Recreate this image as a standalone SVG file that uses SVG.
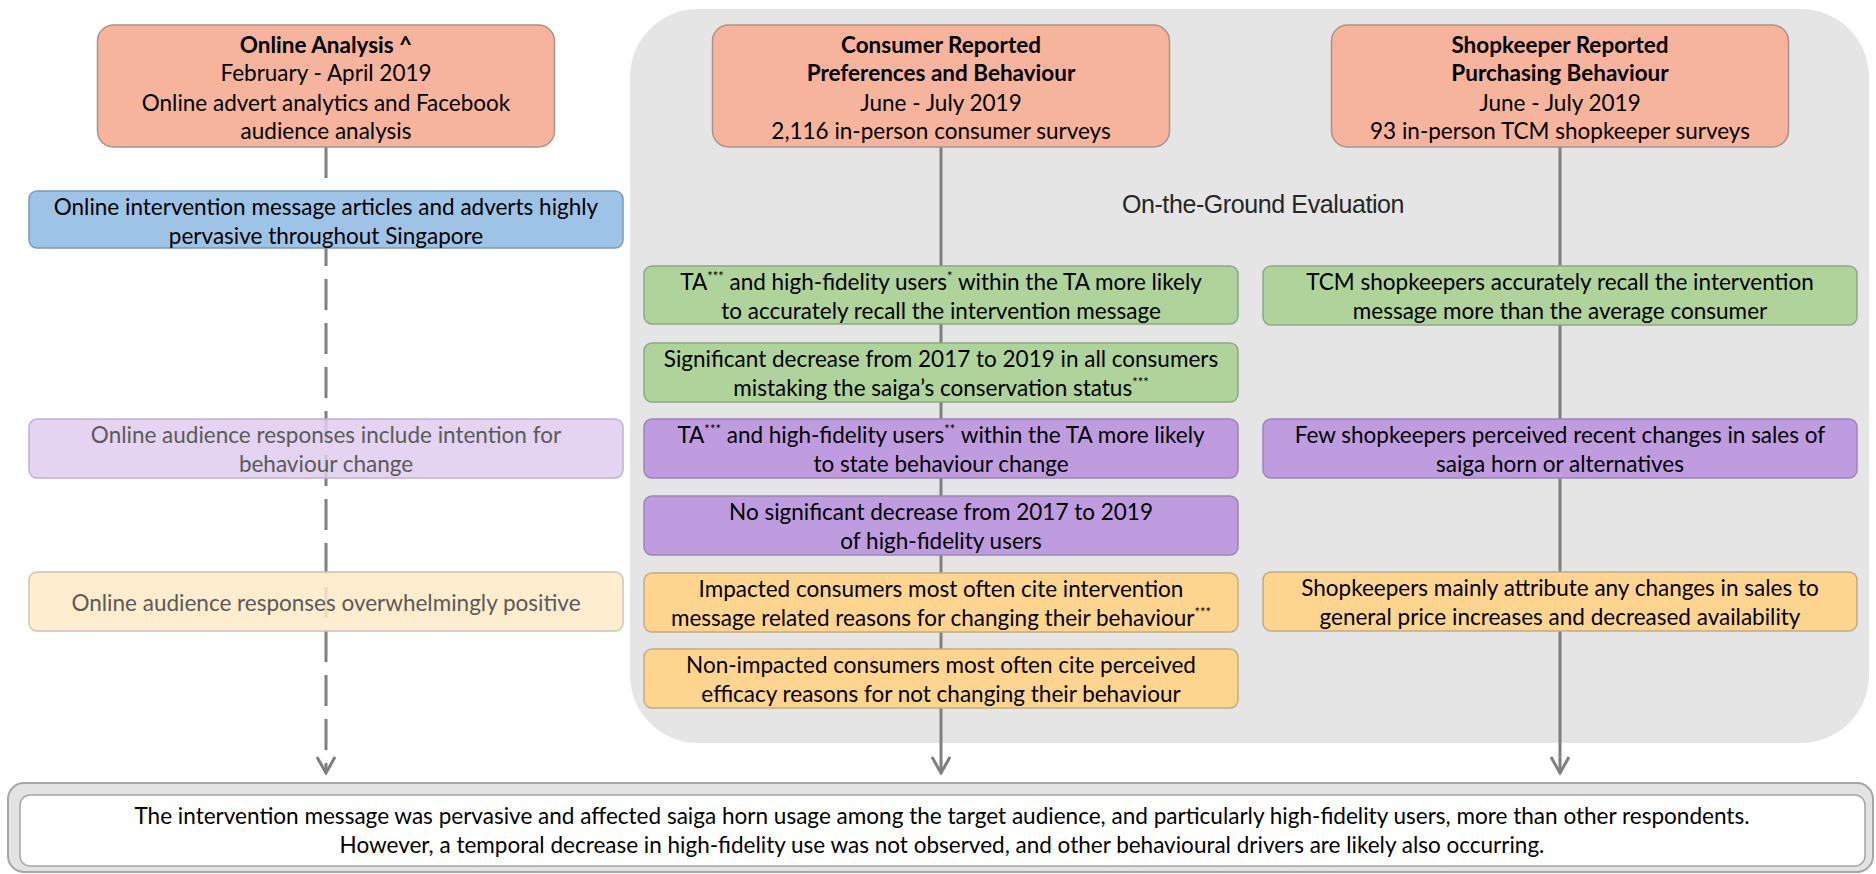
<svg xmlns="http://www.w3.org/2000/svg" width="1876" height="874" viewBox="0 0 1876 874">
<style>
text{font-family:Lato,"Liberation Sans",sans-serif;font-size:22.5px;fill:#000;text-anchor:middle}
.b{font-weight:bold}
.sup{font-size:13px}
.hdr{fill:#f5b49b;stroke:#a8938a;stroke-width:1.5}
.blue{fill:#9dc3e6;stroke:#7d98b3;stroke-width:1.5}
.green{fill:#afd39b;stroke:#8fa884;stroke-width:1.5}
.purple{fill:#bf9be0;stroke:#9c86b0;stroke-width:1.5}
.orange{fill:#fed58f;stroke:#c2ab84;stroke-width:1.5}
.fpurple{fill:#dfcbee;stroke:#bfb3c9;stroke-width:1.5}
.fyellow{fill:#feeac7;stroke:#cfc4b1;stroke-width:1.5}
.faded text{fill:#5a5a5a}
.line{stroke:#7f7f7f;stroke-width:3;fill:none}
.dash{stroke-dasharray:31 13}
</style>
<defs>
<marker id="arr" markerUnits="userSpaceOnUse" viewBox="0 0 20 20" refX="10" refY="18" markerWidth="20" markerHeight="20" orient="0">
<path d="M1,2 L10,18 L19,2" fill="none" stroke="#7f7f7f" stroke-width="3"/>
</marker>
</defs>
<rect id="panel" x="630" y="9" width="1239" height="734" rx="68" fill="#e5e5e5"/>
<text x="1263" y="213" style="font-family:'Liberation Sans',Arial,sans-serif;font-size:25px;fill:#262626;letter-spacing:-0.4px">On-the-Ground Evaluation</text>
<g id="connectors">
<path class="line dash" d="M326,147 V773" marker-end="url(#arr)"/>
<path class="line" d="M941,147 V773" marker-end="url(#arr)"/>
<path class="line" d="M1560,147 V773" marker-end="url(#arr)"/>
</g>
<g id="online-analysis">
<rect class="hdr" x="97.5" y="25" width="457" height="122" rx="16"/>
<text x="326" y="53" class="b">Online Analysis ^</text>
<text x="326" y="81">February - April 2019</text>
<text x="326" y="111">Online advert analytics and Facebook</text>
<text x="326" y="139">audience analysis</text>
</g>
<g id="consumer">
<rect class="hdr" x="712.5" y="25" width="457" height="122" rx="16"/>
<text x="941" y="53" class="b">Consumer Reported</text>
<text x="941" y="81" class="b">Preferences and Behaviour</text>
<text x="941" y="111">June - July 2019</text>
<text x="941" y="139">2,116 in-person consumer surveys</text>
</g>
<g id="shopkeeper">
<rect class="hdr" x="1331.5" y="25" width="457" height="122" rx="16"/>
<text x="1560" y="53" class="b">Shopkeeper Reported</text>
<text x="1560" y="81" class="b">Purchasing Behaviour</text>
<text x="1560" y="111">June - July 2019</text>
<text x="1560" y="139">93 in-person TCM shopkeeper  surveys</text>
</g>
<g id="online-pervasive">
<rect class="blue" x="29" y="191" width="594" height="57" rx="8"/>
<text x="326" y="215">Online intervention message articles and adverts highly</text>
<text x="326" y="244">pervasive throughout Singapore</text>
</g>
<g id="online-intention" class="faded">
<rect class="fpurple" x="29" y="419" width="594" height="59" rx="8" fill-opacity="0.85"/>
<text x="326" y="443">Online audience responses include intention for</text>
<text x="326" y="472">behaviour change</text>
</g>
<g id="online-positive" class="faded">
<rect class="fyellow" x="29" y="572" width="594" height="59" rx="8" fill-opacity="0.85"/>
<text x="326" y="611">Online audience responses overwhelmingly positive</text>
</g>
<g id="c-recall">
<rect class="green" x="644" y="266" width="594" height="58" rx="8"/>
<text x="941" y="290">TA<tspan class="sup" dy="-9">***</tspan><tspan dy="9"> and high-fidelity users</tspan><tspan class="sup" dy="-9">*</tspan><tspan dy="9"> within the TA more likely</tspan></text>
<text x="941" y="319">to accurately recall the intervention message</text>
</g>
<g id="c-status">
<rect class="green" x="644" y="343" width="594" height="59" rx="8"/>
<text x="941" y="367">Significant decrease from 2017 to 2019 in all consumers</text>
<text x="941" y="396">mistaking the saiga’s conservation status<tspan class="sup" dy="-9">***</tspan></text>
</g>
<g id="c-behaviour">
<rect class="purple" x="644" y="419" width="594" height="59" rx="8"/>
<text x="941" y="443">TA<tspan class="sup" dy="-9">***</tspan><tspan dy="9"> and high-fidelity users</tspan><tspan class="sup" dy="-9">**</tspan><tspan dy="9"> within the TA more likely</tspan></text>
<text x="941" y="472">to state behaviour change</text>
</g>
<g id="c-nodecrease">
<rect class="purple" x="644" y="496" width="594" height="59" rx="8"/>
<text x="941" y="520">No significant decrease from 2017 to 2019</text>
<text x="941" y="549">of high-fidelity users</text>
</g>
<g id="c-impacted">
<rect class="orange" x="644" y="573" width="594" height="59" rx="8"/>
<text x="941" y="597">Impacted consumers most often cite intervention</text>
<text x="941" y="626">message related reasons for changing their behaviour<tspan class="sup" dy="-9">***</tspan></text>
</g>
<g id="c-nonimpacted">
<rect class="orange" x="644" y="649" width="594" height="59" rx="8"/>
<text x="941" y="673">Non-impacted consumers most often cite perceived</text>
<text x="941" y="702">efficacy reasons for not changing their behaviour</text>
</g>
<g id="s-recall">
<rect class="green" x="1263" y="266" width="594" height="59" rx="8"/>
<text x="1560" y="290">TCM shopkeepers accurately recall the intervention</text>
<text x="1560" y="319">message more than the average consumer</text>
</g>
<g id="s-sales">
<rect class="purple" x="1263" y="419" width="594" height="59" rx="8"/>
<text x="1560" y="443">Few shopkeepers perceived recent changes in sales of</text>
<text x="1560" y="472">saiga horn or alternatives</text>
</g>
<g id="s-attribute">
<rect class="orange" x="1263" y="572" width="594" height="59" rx="8"/>
<text x="1560" y="596">Shopkeepers mainly attribute any changes in sales to</text>
<text x="1560" y="625">general price increases and decreased availability</text>
</g>
<g id="conclusion">
<rect x="8" y="783" width="1865" height="89" rx="16" fill="#e3e3e3" stroke="#a6a6a6" stroke-width="2"/>
<rect x="20" y="795" width="1845" height="71" rx="10" fill="#ffffff" stroke="#a6a6a6" stroke-width="1.5"/>
<text x="942" y="824" textLength="1615" lengthAdjust="spacingAndGlyphs">The intervention message was pervasive and affected saiga horn usage among the target audience, and particularly high-fidelity users, more than other respondents.</text>
<text x="942" y="853">However, a temporal decrease in high-fidelity use was not observed, and other behavioural drivers are likely also occurring.</text>
</g>
</svg>
